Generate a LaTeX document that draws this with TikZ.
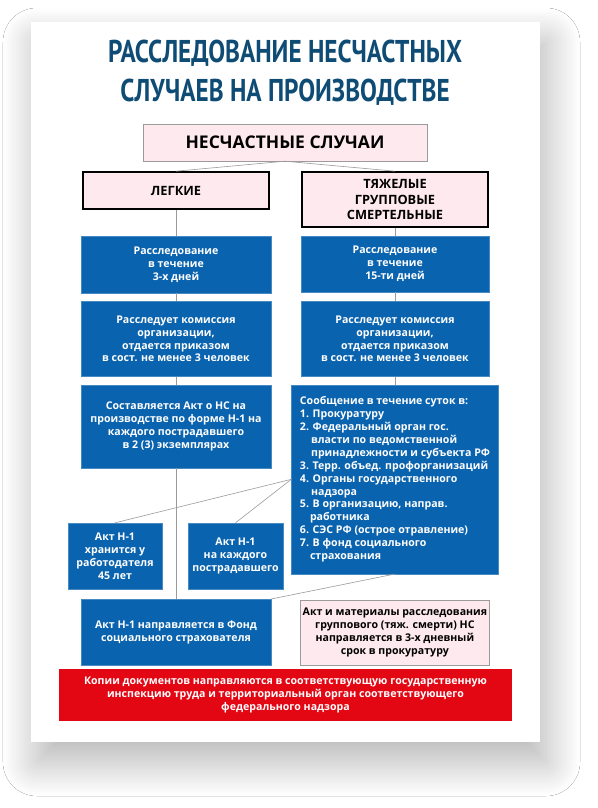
\documentclass[tikz,border=0pt]{standalone}
\usepackage{fontspec}
\setmainfont{Open Sans}
\newfontfamily\headfont[FakeStretch=0.8]{PT Sans}
\usepackage{tikz}
\usetikzlibrary{positioning,shadows.blur}
\definecolor{otblue}{HTML}{0A63AE}
\definecolor{otnavy}{HTML}{0F4C75}
\definecolor{otpink}{HTML}{FDE9EE}
\definecolor{otred}{HTML}{E30613}
\definecolor{otgray}{HTML}{9B9B9B}

\begin{document}
\begin{tikzpicture}[
  x=1pt,y=-1pt,
  font=\bfseries\fontsize{10.6}{12.9}\selectfont,
  sheet/.style={fill=white,inner sep=0pt,
                blur shadow={shadow xshift=6pt,shadow yshift=-20pt,shadow blur radius=34pt,
                             shadow blur steps=30,shadow opacity=30}},
  cases/.style={draw=otgray,fill=otpink,inner sep=0pt,minimum width=284pt,minimum height=37pt,
                font=\bfseries\fontsize{17.5}{19}\selectfont},
  kind/.style={draw=black,line width=1.6pt,fill=otpink,inner sep=0pt,align=center,minimum width=186pt,
               font=\bfseries\fontsize{12.8}{15.5}\selectfont},
  stage/.style={draw=otblue!75!white,fill=otblue,text=white,align=center,inner sep=0pt,minimum width=190pt},
  act/.style={stage,minimum width=94pt,minimum height=66pt},
  note/.style={draw=otgray,fill=otpink,align=center,inner sep=0pt,minimum width=189pt,minimum height=65pt},
  alert/.style={fill=otred,text=white,align=center,inner sep=0pt,minimum width=453pt,minimum height=52pt},
  link/.style={otgray,line width=0.6pt}
]
  \useasboundingbox[fill=white] (0,0) rectangle (597,808);
  \node[sheet,minimum width=509pt,minimum height=720pt] (sheet) at (285.5,382) {};

  \node[text=otnavy,align=center,font=\headfont\bfseries\fontsize{31.5}{39}\selectfont] (title) at (285,73)
    {РАССЛЕДОВАНИЕ НЕСЧАСТНЫХ\\СЛУЧАЕВ НА ПРОИЗВОДСТВЕ};

  \node[cases] (cases) at (285,142.5) {НЕСЧАСТНЫЕ СЛУЧАИ};
  \node[kind,minimum height=37pt] (light) at (176,190.5) {ЛЕГКИЕ};
  \node[kind,minimum height=55pt] (heavy) at (395,199.5) {ТЯЖЕЛЫЕ\\ГРУППОВЫЕ\\СМЕРТЕЛЬНЫЕ};

  \node[stage,minimum height=57pt,below=26pt of light] (l1) {Расследование\\в течение\\3-х дней};
  \node[stage,minimum height=75pt,below=8pt of l1] (l2)
    {Расследует комиссия\\организации,\\отдается приказом\\в сост. не менее 3 человек};
  \node[stage,minimum height=83pt,below=8pt of l2] (l3)
    {Составляется Акт о НС на\\производстве по форме Н-1 на\\каждого пострадавшего\\в 2 (3) экземплярах};

  \node[stage,minimum width=188pt,minimum height=56pt,below=8pt of heavy] (r1) {Расследование\\в течение\\15-ти дней};
  \node[stage,minimum width=188pt,minimum height=75pt,below=9pt of r1] (r2)
    {Расследует комиссия\\организации,\\отдается приказом\\в сост. не менее 3 человек};
  \node[stage,minimum width=207pt,minimum height=189pt,align=left,below=8pt of r2] (r3)
    {Сообщение в течение суток в:\\
     1. Прокуратуру\\
     2. Федеральный орган гос.\\
     \hspace*{1.05em}власти по ведомственной\\
     \hspace*{1.05em}принадлежности и субъекта РФ\\
     3. Терр. объед. профорганизаций\\
     4. Органы государственного\\
     \hspace*{1.05em}надзора\\
     5. В организацию, направ.\\
     \hspace*{0.95em}работника\\
     6. СЭС РФ (острое отравление)\\
     7. В фонд социального\\
     \hspace*{0.95em}страхования};

  \node[act] (keep) at (115,556) {Акт Н-1\\хранится у\\работодателя\\45 лет};
  \node[act,minimum width=95pt] (each) at (235.5,556) {Акт Н-1\\на каждого\\пострадавшего};
  \node[stage,minimum height=66pt,below=131pt of l3] (fund) {Акт Н-1 направляется в Фонд\\социального страхователя};
  \node[note,right=29pt of fund] (prok)
    {Акт и материалы расследования\\группового (тяж. смерти) НС\\направляется в 3-х дневный\\срок в прокуратуру};
  \node[alert] (copies) at (285.5,695)
    {Копии документов направляются в соответствующую государственную\\инспекцию труда и территориальный орган соответствующего\\федерального надзора};

  \draw[link] (cases.south) -- (light.north);
  \draw[link] (cases.south) -- (heavy.north);
  \draw[link] (light) -- (l1) (l1) -- (l2) (l2) -- (l3) (l3) -- (fund);
  \draw[link] (heavy) -- (r1) (r1) -- (r2) (r2) -- (r3);
  \draw[link] (r3.west) -- (keep.north);
  \draw[link] (r3.west) -- (each.north);
  \draw[link] (r3.south) -- (fund.north east);
\end{tikzpicture}
\end{document}
